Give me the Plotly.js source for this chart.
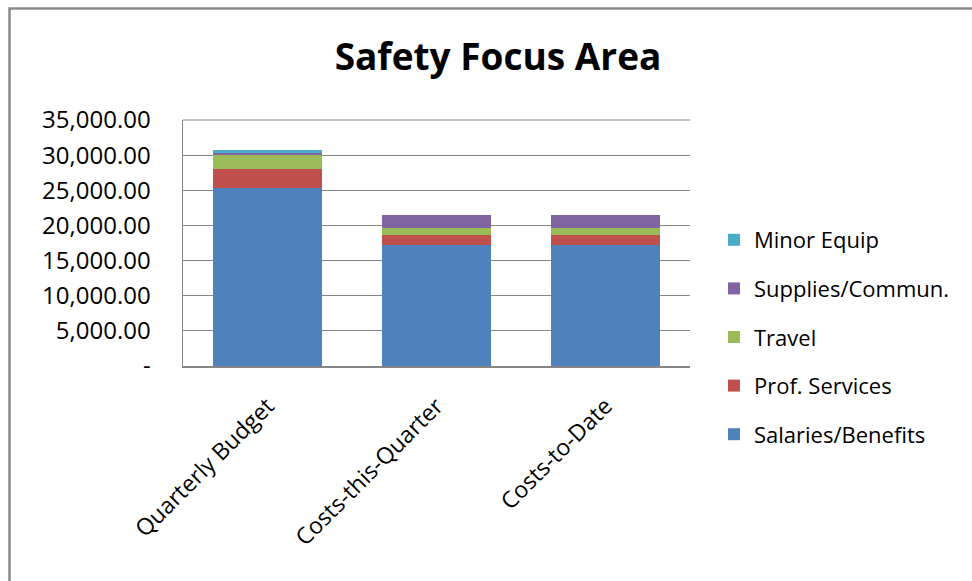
<!DOCTYPE html>
<html>
<head>
<meta charset="utf-8">
<script src="https://cdn.plot.ly/plotly-3.0.1.min.js"></script>
<style>
  html, body { margin: 0; padding: 0; background: #fff; }
  #chart { width: 972px; height: 581px; }
</style>
</head>
<body>
<div id="chart"></div>
<script>
// ---- data ----
const categories = ["Quarterly Budget", "Costs-this-Quarter", "Costs-to-Date"];
const salariesBenefits = [25270, 17250, 17250];
const profServices     = [2740, 1420, 1420];
const travel           = [1990, 950, 950];
const supplies         = [330, 1810, 1810];
const minorEquip       = [380, 0, 0];
const yTickVals  = [0, 5000, 10000, 15000, 20000, 25000, 30000, 35000];
const yTickText  = ["-", "5,000.00", "10,000.00", "15,000.00", "20,000.00", "25,000.00", "30,000.00", "35,000.00"];

const seriesNames  = ["Salaries/Benefits", "Prof. Services", "Travel", "Supplies/Commun.", "Minor Equip"];
const seriesValues = [salariesBenefits, profServices, travel, supplies, minorEquip];
const seriesColors = ["#4F81BD", "#C0504D", "#9BBB59", "#8064A2", "#4BACC6"];

const FONT = "'Open Sans', Calibri, 'Noto Sans', sans-serif";

const traces = seriesNames.map((name, i) => ({
  type: "bar",
  name: name,
  x: categories,
  y: seriesValues[i],
  marker: { color: seriesColors[i], line: { width: 0 } },
  legendgroup: "g" + i,
  legendrank: seriesNames.length - i,
  hoverinfo: "x+y+name"
}));

// plot-area geometry in px (for outer frame shape in paper coords)
const W = 972, H = 581;
const mL = 183, mR = W - 690, mT = 120, mB = H - 366;
const pw = W - mL - mR, ph = H - mT - mB;
const px = v => (v - mL) / pw;
const py = v => (H - mB - v) / ph;

const layout = {
  width: W, height: H,
  margin: { l: mL, r: mR, t: mT, b: mB, pad: 0 },
  paper_bgcolor: "#ffffff",
  plot_bgcolor: "#ffffff",
  barmode: "stack",
  bargap: 0.355,
  font: { family: FONT, color: "#000000" },
  title: {
    text: "<b>Safety Focus Area</b>",
    font: { family: FONT, size: 37, color: "#000" },
    x: 498 / W, xref: "container", xanchor: "center",
    y: 1 - 70 / H, yref: "container", yanchor: "bottom"
  },
  xaxis: {
    type: "category",
    tickangle: -45,
    tickfont: { family: FONT, size: 23, color: "#000" },
    showline: true, linecolor: "#868686", linewidth: 1.5,
    ticks: "", showgrid: false,
    ticklabelstandoff: 16,
    range: [-0.5, 2.5], fixedrange: true
  },
  yaxis: {
    range: [0, 35000],
    tickvals: yTickVals,
    ticktext: yTickText,
    tickfont: { family: FONT, size: 24, color: "#000" },
    showline: true, linecolor: "#868686", linewidth: 1.5,
    showgrid: true, gridcolor: "#868686", gridwidth: 1,
    zeroline: false, ticks: "",
    ticklabelstandoff: 26,
    fixedrange: true
  },
  legend: {
    traceorder: "grouped",
    tracegroupgap: 17,
    x: (714 - mL) / pw, xanchor: "left",
    y: py(219), yanchor: "top",
    font: { family: FONT, size: 22, color: "#000" },
    bgcolor: "rgba(0,0,0,0)",
    itemwidth: 30
  },
  shapes: [
    {
      type: "path", xref: "paper", yref: "paper",
      path: "M " + px(9.5) + " " + py(H + 5) + " L " + px(9.5) + " " + py(8.5) + " L " + px(W + 5) + " " + py(8.5),
      line: { color: "#8a8a8a", width: 2.5 }
    },
    {
      type: "line", xref: "paper", yref: "paper",
      x0: 0, x1: 1, y0: 1, y1: 1,
      line: { color: "#868686", width: 1 }
    }
  ],
  showlegend: true
};

Plotly.newPlot("chart", traces, layout, { displayModeBar: false, staticPlot: true });
</script>
</body>
</html>
